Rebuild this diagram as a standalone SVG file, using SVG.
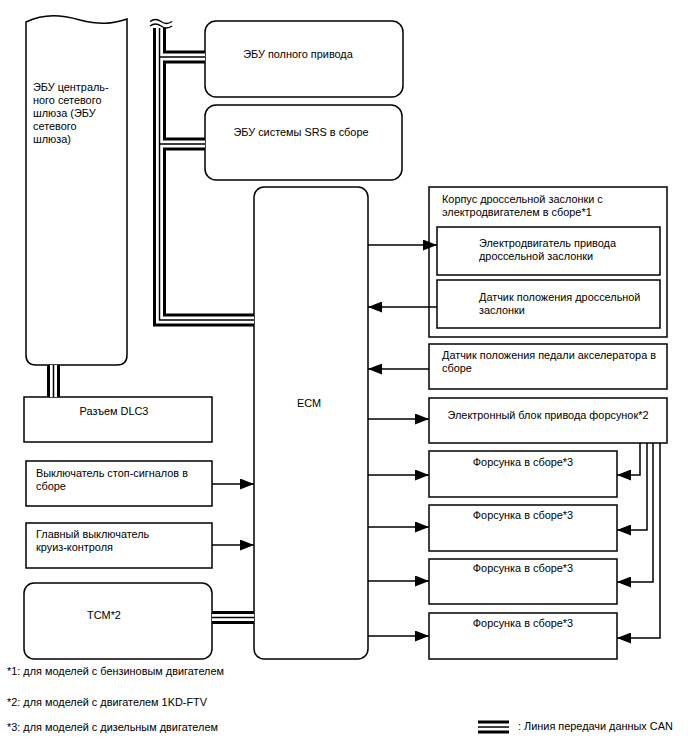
<svg xmlns="http://www.w3.org/2000/svg" width="688" height="755" viewBox="0 0 688 755">
<defs>
<marker id="ah" markerUnits="userSpaceOnUse" markerWidth="14" markerHeight="11" refX="14" refY="5.5" orient="auto">
<path d="M0,0 L14,5.5 L0,11 z" fill="#000"/>
</marker>
<style>
.b{fill:#fff;stroke:#000;stroke-width:1.5}
.t{font-family:"Liberation Sans",Arial,sans-serif;font-size:10.9px;fill:#000}
.c{text-anchor:middle}
.w{fill:none;stroke:#000;stroke-width:1.5}
.a{fill:none;stroke:#000;stroke-width:1.5;marker-end:url(#ah)}
.co{fill:none;stroke:#000;stroke-width:13;stroke-linejoin:miter}
.cw{fill:none;stroke:#fff;stroke-width:7;stroke-linejoin:miter}
.cm{fill:none;stroke:#000;stroke-width:1.5;stroke-linejoin:miter}
</style>
</defs>
<rect width="688" height="755" fill="#fff"/>

<g id="gateway">
<path class="b" d="M26,22 C45,13 62,15 80,20 C100,25 112,24 127,19 V355 Q127,365 117,365 H36 Q26,365 26,355 Z"/>
<text class="t" x="33" y="91">ЭБУ централь-</text>
<text class="t" x="33" y="104">ного сетевого</text>
<text class="t" x="33" y="117">шлюза (ЭБУ</text>
<text class="t" x="33" y="130">сетевого</text>
<text class="t" x="33" y="143">шлюза)</text>
</g>

<g id="awd-ecu">
<rect class="b" x="205" y="21" width="198" height="76" rx="11"/>
<text class="t c" x="298" y="58">ЭБУ полного привода</text>
</g>

<g id="srs-ecu">
<rect class="b" x="205" y="105" width="197" height="75" rx="11"/>
<text class="t c" x="301" y="136">ЭБУ системы SRS в сборе</text>
</g>

<g id="ecm">
<rect class="b" x="254" y="187" width="114" height="472" rx="10"/>
<text class="t c" x="309" y="407">ECM</text>
</g>

<g id="throttle-body">
<rect class="b" x="429" y="187" width="238" height="150"/>
<text class="t" x="442" y="203">Корпус дроссельной заслонки с</text>
<text class="t" x="442" y="216">электродвигателем в сборе*1</text>
</g>

<g id="throttle-motor">
<rect class="b" x="437" y="227" width="223" height="48"/>
<text class="t" x="479" y="247">Электродвигатель привода</text>
<text class="t" x="479" y="260">дроссельной заслонки</text>
</g>

<g id="throttle-sensor">
<rect class="b" x="437" y="280" width="223" height="48"/>
<text class="t" x="479" y="301">Датчик положения дроссельной</text>
<text class="t" x="479" y="314">заслонки</text>
</g>

<g id="accel-pedal">
<rect class="b" x="429" y="344" width="238" height="45"/>
<text class="t" x="442" y="359">Датчик положения педали акселератора в</text>
<text class="t" x="442" y="372">сборе</text>
</g>

<g id="injector-driver">
<rect class="b" x="429" y="398" width="238" height="45"/>
<text class="t c" x="548" y="419">Электронный блок привода форсунок*2</text>
</g>

<g id="injector-1">
<rect class="b" x="429" y="451" width="188" height="46"/>
<text class="t c" x="523" y="466">Форсунка в сборе*3</text>
</g>
<g id="injector-2">
<rect class="b" x="429" y="505" width="188" height="46"/>
<text class="t c" x="523" y="519">Форсунка в сборе*3</text>
</g>
<g id="injector-3">
<rect class="b" x="429" y="559" width="188" height="45"/>
<text class="t c" x="523" y="572">Форсунка в сборе*3</text>
</g>
<g id="injector-4">
<rect class="b" x="429" y="613" width="188" height="46"/>
<text class="t c" x="523" y="627">Форсунка в сборе*3</text>
</g>

<g id="dlc3">
<rect class="b" x="24" y="397" width="188" height="45"/>
<text class="t c" x="114" y="415">Разъем DLC3</text>
</g>

<g id="stop-switch">
<rect class="b" x="26" y="461" width="186" height="45"/>
<text class="t" x="36" y="477">Выключатель стоп-сигналов в</text>
<text class="t" x="36" y="490">сборе</text>
</g>

<g id="cruise-switch">
<rect class="b" x="26" y="523" width="186" height="45"/>
<text class="t" x="36" y="538">Главный выключатель</text>
<text class="t" x="36" y="551">круиз-контроля</text>
</g>

<g id="tcm">
<rect class="b" x="24" y="583" width="188" height="76" rx="10"/>
<text class="t c" x="104" y="619">TCM*2</text>
</g>

<g id="connectors">
<g id="can">
<path class="co" d="M159.5,28 V320 H254 M159.5,57 H205 M159.5,144 H205 M53.5,365 V397 M212,617.5 H254"/>
<path class="cw" d="M159.5,28 V320 H254 M159.5,57 H205 M159.5,144 H205 M53.5,365 V397 M212,617.5 H254"/>
<path class="cm" d="M159.5,28 V320 H254 M159.5,57 H205 M159.5,144 H205 M53.5,365 V397 M212,617.5 H254"/>
<path class="w" d="M150,21.5 q5.5,-4 11,0 t11,0 M150,26 q5.5,-4 11,0 t11,0" stroke-width="1.2"/>
</g>
<line class="a" x1="368" y1="245" x2="437" y2="245"/>
<line class="a" x1="437" y1="307" x2="368" y2="307"/>
<line class="a" x1="429" y1="369" x2="368" y2="369"/>
<line class="a" x1="368" y1="419" x2="429" y2="419"/>
<line class="a" x1="368" y1="475" x2="429" y2="475"/>
<line class="a" x1="368" y1="527" x2="429" y2="527"/>
<line class="a" x1="368" y1="581" x2="429" y2="581"/>
<line class="a" x1="368" y1="636" x2="429" y2="636"/>
<line class="a" x1="212" y1="484" x2="254" y2="484"/>
<line class="a" x1="212" y1="545" x2="254" y2="545"/>
<polyline class="a" points="640,443 640,475 617,475"/>
<polyline class="a" points="647,443 647,530 617,530"/>
<polyline class="a" points="653,443 653,582 617,582"/>
<polyline class="a" points="660,443 660,638 617,638"/>
</g>

<g id="notes">
<text class="t" x="7" y="675">*1: для моделей с бензиновым двигателем</text>
<text class="t" x="7" y="706">*2: для моделей с двигателем 1KD-FTV</text>
<text class="t" x="7" y="731">*3: для моделей с дизельным двигателем</text>
</g>

<g id="legend">
<path class="co" d="M478,727 H509"/>
<path class="cw" d="M478,727 H509"/>
<path class="cm" d="M478,727 H509"/>
<text class="t" x="518" y="730">: Линия передачи данных CAN</text>
</g>
</svg>
